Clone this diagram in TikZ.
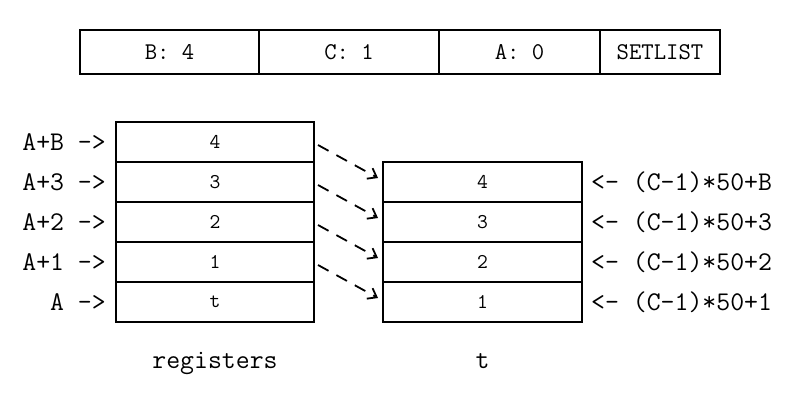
\documentclass[tikz,border=0pt]{standalone}
\usepackage{fontspec}
\usetikzlibrary{positioning,arrows.meta}
\tikzstyle{cell}=[rectangle, draw=black, line width=1.8pt, outer sep=0pt, inner sep=0pt, minimum height=44pt, text centered, font=\ttfamily\fontsize{24}{26}\selectfont]
\tikzstyle{reg}=[rectangle, draw=black, line width=1.8pt, outer sep=0pt, inner sep=0pt, minimum height=40pt, text centered, font=\ttfamily\fontsize{21}{23}\selectfont]
\tikzstyle{lbl}=[inner sep=0pt, font=\ttfamily\fontsize{27}{29}\selectfont]
\tikzstyle{move}=[-{Straight Barb[length=8pt,width=12pt]}, line width=1.8pt, dash pattern=on 12pt off 9pt]

\begin{document}
\begin{tikzpicture}[x=1pt, y=-1pt]

    \useasboundingbox (0,0) rectangle (798,400);

%instruction
    \node (cb) [cell, minimum width=179pt, anchor=north west] at (80,30) {B: 4};
    \node (cc) [cell, minimum width=180pt, right=0pt of cb] {C: 1};
    \node (ca) [cell, minimum width=161pt, right=0pt of cc] {A: 0};
    \node (cset) [cell, minimum width=120pt, right=0pt of ca] {SETLIST};

%registers
    \node (r4) [reg, minimum width=198pt, anchor=north west] at (116,122) {4};
    \node (r3) [reg, minimum width=198pt, below=0pt of r4] {3};
    \node (r2) [reg, minimum width=198pt, below=0pt of r3] {2};
    \node (r1) [reg, minimum width=198pt, below=0pt of r2] {1};
    \node (r0) [reg, minimum width=198pt, below=0pt of r1] {t};

%table t
    \node (t4) [reg, minimum width=199pt, anchor=north west] at (383,162) {4};
    \node (t3) [reg, minimum width=199pt, below=0pt of t4] {3};
    \node (t2) [reg, minimum width=199pt, below=0pt of t3] {2};
    \node (t1) [reg, minimum width=199pt, below=0pt of t2] {1};

    \node (la4) [lbl, left=10pt of r4] {A+B ->};
    \node (la3) [lbl, left=10pt of r3] {A+3 ->};
    \node (la2) [lbl, left=10pt of r2] {A+2 ->};
    \node (la1) [lbl, left=10pt of r1] {A+1 ->};
    \node (la0) [lbl, left=10pt of r0] {A ->};

    \node (lt4) [lbl, right=9pt of t4] {<- (C-1)*50+B};
    \node (lt3) [lbl, right=9pt of t3] {<- (C-1)*50+3};
    \node (lt2) [lbl, right=9pt of t2] {<- (C-1)*50+2};
    \node (lt1) [lbl, right=9pt of t1] {<- (C-1)*50+1};

    \node (regname) [lbl, anchor=base] at ([yshift=-46pt]r0.south) {registers};
    \node (tname) [lbl, anchor=base] at (t1.south |- regname.base) {t};

   \draw[move] ([xshift=4pt,yshift=-3pt]r4.east) -- ([xshift=-5pt,yshift=4pt]t4.west);
   \draw[move] ([xshift=4pt,yshift=-3pt]r3.east) -- ([xshift=-5pt,yshift=4pt]t3.west);
   \draw[move] ([xshift=4pt,yshift=-3pt]r2.east) -- ([xshift=-5pt,yshift=4pt]t2.west);
   \draw[move] ([xshift=4pt,yshift=-3pt]r1.east) -- ([xshift=-5pt,yshift=4pt]t1.west);

\end{tikzpicture}
\end{document}
